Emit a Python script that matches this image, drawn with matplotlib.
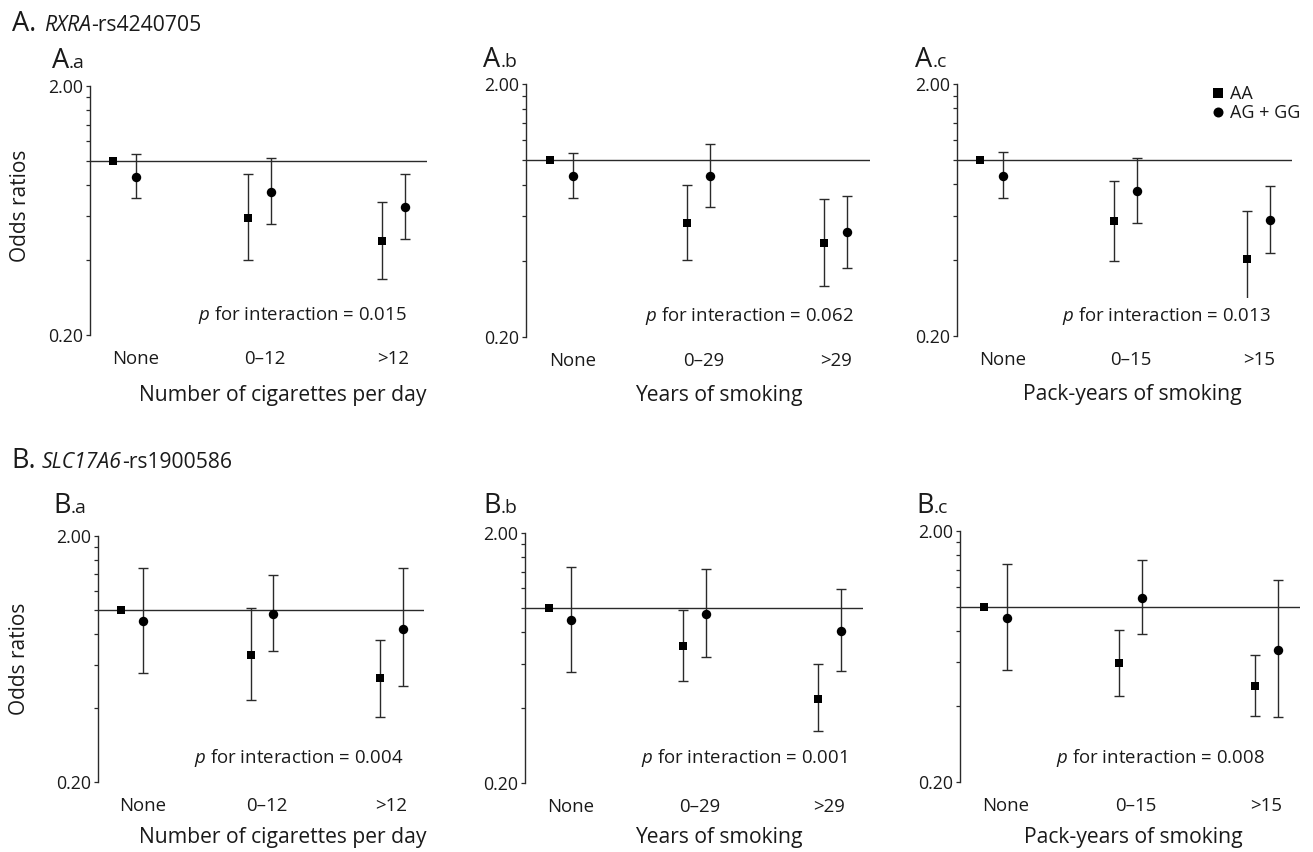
import numpy as np
import matplotlib
matplotlib.use("Agg")
import matplotlib.pyplot as plt
from matplotlib.ticker import FixedLocator, FixedFormatter, NullFormatter
from matplotlib.lines import Line2D

plt.rcParams['font.family'] = ['Open Sans', 'DejaVu Sans']
plt.rcParams['mathtext.fontset'] = 'custom'
plt.rcParams['mathtext.rm'] = 'Open Sans'
plt.rcParams['mathtext.it'] = 'Open Sans:italic'

# ---------------- data ----------------
cats_cig = ["None", "0–12", ">12"]
cats_years = ["None", "0–29", ">29"]
cats_pack = ["None", "0–15", ">15"]

xlabel_cig = "Number of cigarettes per day"
xlabel_years = "Years of smoking"
xlabel_pack = "Pack-years of smoking"

legend_labels = ["AA", "AG + GG"]

nan = np.nan
# A. RXRA-rs4240705
Aa_aa_or = [1.00, 0.590, 0.475]
Aa_aa_lo = [nan, 0.400, 0.335]
Aa_aa_hi = [nan, 0.890, 0.686]
Aa_ag_or = [0.865, 0.750, 0.653]
Aa_ag_lo = [0.710, 0.560, 0.484]
Aa_ag_hi = [1.070, 1.030, 0.890]
Aa_p = "0.015"

Ab_aa_or = [1.00, 0.564, 0.471]
Ab_aa_lo = [nan, 0.404, 0.317]
Ab_aa_hi = [nan, 0.796, 0.700]
Ab_ag_or = [0.863, 0.863, 0.518]
Ab_ag_lo = [0.708, 0.655, 0.375]
Ab_ag_hi = [1.070, 1.160, 0.723]
Ab_p = "0.062"

Ac_aa_or = [1.00, 0.571, 0.404]
Ac_aa_lo = [nan, 0.396, 0.250]
Ac_aa_hi = [nan, 0.828, 0.628]
Ac_ag_or = [0.861, 0.754, 0.577]
Ac_ag_lo = [0.707, 0.564, 0.428]
Ac_ag_hi = [1.070, 1.020, 0.787]
Ac_p = "0.013"

# B. SLC17A6-rs1900586
Ba_aa_or = [1.00, 0.656, 0.528]
Ba_aa_lo = [nan, 0.431, 0.368]
Ba_aa_hi = [nan, 1.015, 0.759]
Ba_ag_or = [0.904, 0.962, 0.839]
Ba_ag_lo = [0.557, 0.679, 0.489]
Ba_ag_hi = [1.476, 1.387, 1.476]
Ba_p = "0.004"

Bb_aa_or = [1.00, 0.706, 0.434]
Bb_aa_lo = [nan, 0.511, 0.322]
Bb_aa_hi = [nan, 0.982, 0.598]
Bb_ag_or = [0.896, 0.949, 0.812]
Bb_ag_lo = [0.558, 0.638, 0.561]
Bb_ag_hi = [1.465, 1.442, 1.197]
Bb_p = "0.001"

Bc_aa_or = [1.00, 0.598, 0.482]
Bc_aa_lo = [nan, 0.442, 0.365]
Bc_aa_hi = [nan, 0.808, 0.641]
Bc_ag_or = [0.904, 1.086, 0.671]
Bc_ag_lo = [0.557, 0.774, 0.363]
Bc_ag_hi = [1.480, 1.535, 1.271]
Bc_p = "0.008"

y_major = [0.2, 2.0]
y_major_labels = ["0.20", "2.00"]
y_minor = [0.4, 0.6, 0.8, 1.0, 1.2, 1.4, 1.6, 1.8]

# ---------------- layout (pixels) ----------------
W, H = 1313, 852
fig = plt.figure(figsize=(W / 100, H / 100), dpi=100)
fig.patch.set_facecolor("white")

TXT = "#1a1a1a"
LC = "#2a2a2a"
OFF = 0.085

panels = [
    dict(box=(90, 427, 86, 335), cats=cats_cig, xl=xlabel_cig,
         d=(Aa_aa_or, Aa_aa_lo, Aa_aa_hi, Aa_ag_or, Aa_ag_lo, Aa_ag_hi), p=Aa_p,
         lab=("A", "a", 52, 68), ppos=(407, 315), xlpos=(283, 395), ylab=True, leg=False),
    dict(box=(526, 870, 84, 337), cats=cats_years, xl=xlabel_years,
         d=(Ab_aa_or, Ab_aa_lo, Ab_aa_hi, Ab_ag_or, Ab_ag_lo, Ab_ag_hi), p=Ab_p,
         lab=("A", "b", 483, 67), ppos=(854, 316), xlpos=(719, 395), ylab=False, leg=False),
    dict(box=(957, 1292, 84, 336), cats=cats_pack, xl=xlabel_pack,
         d=(Ac_aa_or, Ac_aa_lo, Ac_aa_hi, Ac_ag_or, Ac_ag_lo, Ac_ag_hi), p=Ac_p,
         lab=("A", "c", 915, 67), ppos=(1271, 316), xlpos=(1132, 395), ylab=False, leg=True),
    dict(box=(98, 424, 536, 782), cats=cats_cig, xl=xlabel_cig,
         d=(Ba_aa_or, Ba_aa_lo, Ba_aa_hi, Ba_ag_or, Ba_ag_lo, Ba_ag_hi), p=Ba_p,
         lab=("B", "a", 53, 513), ppos=(403, 758), xlpos=(283, 838), ylab=True, leg=False),
    dict(box=(525, 863, 533, 783), cats=cats_years, xl=xlabel_years,
         d=(Bb_aa_or, Bb_aa_lo, Bb_aa_hi, Bb_ag_or, Bb_ag_lo, Bb_ag_hi), p=Bb_p,
         lab=("B", "b", 483, 513), ppos=(847, 758), xlpos=(719, 838), ylab=False, leg=False),
    dict(box=(960, 1300, 531, 782), cats=cats_pack, xl=xlabel_pack,
         d=(Bc_aa_or, Bc_aa_lo, Bc_aa_hi, Bc_ag_or, Bc_ag_lo, Bc_ag_hi), p=Bc_p,
         lab=("B", "c", 916, 513), ppos=(1265, 758), xlpos=(1133, 838), ylab=False, leg=False),
]

renderer = fig.canvas.get_renderer()


def run_text(x_px, y_px, parts):
    x = x_px
    for s, size, style in parts:
        t = fig.text(x / W, 1 - y_px / H, s, fontsize=size, style=style,
                     ha="left", va="baseline", color=TXT)
        bb = t.get_window_extent(renderer=renderer)
        x += bb.width


for P in panels:
    x0, x1, yt, yb = P["box"]
    ax = fig.add_axes([x0 / W, 1 - yb / H, (x1 - x0) / W, (yb - yt) / H])
    ax.set_facecolor("none")
    ax.set_yscale("log")
    ax.set_ylim(0.2, 2.0)
    ax.set_xlim(-0.26, 2.25)
    for s in ("top", "right", "bottom"):
        ax.spines[s].set_visible(False)
    ax.spines["left"].set_linewidth(1.0)
    ax.spines["left"].set_color(LC)

    ax.yaxis.set_major_locator(FixedLocator(y_major))
    ax.yaxis.set_major_formatter(FixedFormatter(y_major_labels))
    ax.yaxis.set_minor_locator(FixedLocator(y_minor))
    ax.yaxis.set_minor_formatter(NullFormatter())
    ax.tick_params(axis="y", which="both", length=3.2, width=0.9, color=LC,
                   pad=2, labelsize=12.8, labelcolor=TXT)

    ax.set_xticks([0.08, 1.04, 2.0])
    ax.set_xticklabels(P["cats"])
    ax.tick_params(axis="x", length=0, pad=10.5, labelsize=13.4, labelcolor=TXT)

    ax.axhline(1.0, color=LC, lw=1.0, zorder=1)

    x = np.arange(3)
    aa_or, aa_lo, aa_hi, ag_or, ag_lo, ag_hi = [np.array(v, float) for v in P["d"]]
    for xs, o, lo, hi, mk, ms in ((x - OFF, aa_or, aa_lo, aa_hi, "s", 6.2),
                                  (x + OFF, ag_or, ag_lo, ag_hi, "o", 6.8)):
        m = np.isfinite(lo)
        ax.errorbar(xs[m], o[m], yerr=[o[m] - lo[m], hi[m] - o[m]], fmt="none",
                    ecolor=LC, elinewidth=1.0, capsize=3.6, capthick=1.0, zorder=2)
        ax.plot(xs, o, ls="none", marker=mk, ms=ms, mew=0, color="black", zorder=3)

    ax.set_xlabel(P["xl"], fontsize=15.2, color=TXT, va="center")
    xl_x, xl_y = P["xlpos"]
    ax.xaxis.set_label_coords((xl_x - x0) / (x1 - x0), (yb - xl_y) / (yb - yt))

    if P["ylab"]:
        ax.set_ylabel("Odds ratios", fontsize=15, color=TXT, va="center", ha="center")
        cy = (yt + yb) / 2 - 5 if yt < 200 else (yt + yb) / 2
        ax.yaxis.set_label_coords((20 - x0) / (x1 - x0), (yb - cy) / (yb - yt))

    px, py = P["ppos"]
    fig.text(px / W, 1 - py / H, r"$p$ for interaction = " + P["p"], fontsize=13.4,
             ha="right", va="center", color=TXT, zorder=5,
             bbox=dict(boxstyle="square,pad=0.35", fc="white", ec="none"))

    L, sub, lx, ly = P["lab"]
    run_text(lx, ly, [(L, 19.5, "normal"), ("." + sub, 14, "normal")])

    if P["leg"]:
        h = [Line2D([], [], ls="none", marker="s", ms=6.6, mew=0, color="black"),
             Line2D([], [], ls="none", marker="o", ms=7.2, mew=0, color="black")]
        ax.legend(h, legend_labels, loc="upper left",
                  bbox_to_anchor=(1212 / W, 1 - 85 / H), bbox_transform=fig.transFigure,
                  frameon=False, fontsize=13, handlelength=0.7, handletextpad=0.3,
                  labelspacing=0.05, borderpad=0, borderaxespad=0, labelcolor=TXT)

# row headers
fig.text(12 / W, 1 - 31 / H, "A.", fontsize=19.5, ha="left", va="baseline", color=TXT)
run_text(44, 31, [("RXRA", 15.2, "italic"), ("-rs4240705", 15.2, "normal")])
fig.text(11 / W, 1 - 468 / H, "B.", fontsize=19.5, ha="left", va="baseline", color=TXT)
run_text(42, 468, [("SLC17A6", 15.2, "italic"), ("-rs1900586", 15.2, "normal")])

fig.savefig("out.png", dpi=100, facecolor="white")
